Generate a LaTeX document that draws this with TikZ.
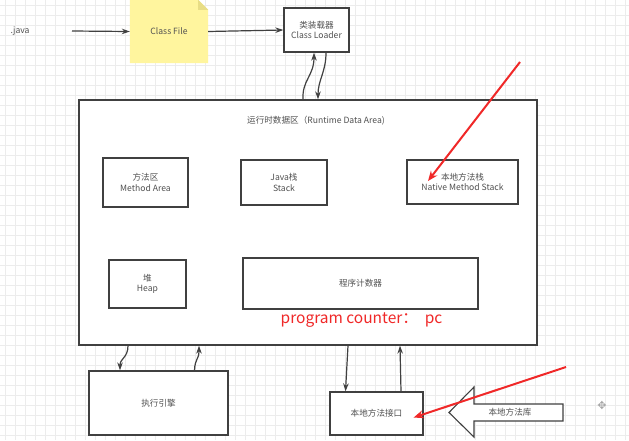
\documentclass[tikz,border=0pt]{standalone}
\usepackage{fontspec}
\setmainfont{Noto Sans CJK SC}
\newfontfamily\symfont{DejaVu Sans}
\usetikzlibrary{arrows.meta}
\definecolor{gridc}{HTML}{ECECEC}
\definecolor{linec}{HTML}{404040}
\definecolor{txtc}{HTML}{505050}
\definecolor{notey}{HTML}{FFF59E}
\definecolor{notefold}{HTML}{E8DD85}
\definecolor{redc}{HTML}{F02828}
\begin{document}
\begin{tikzpicture}[x=1pt,y=-1pt,
  box/.style={draw=linec,line width=1.3pt,fill=white,text=txtc,align=center,font=\fontsize{8.6}{10.5}\selectfont,inner sep=0pt},
  plain/.style={text=txtc,align=center,font=\fontsize{8.6}{10.5}\selectfont,inner sep=0pt},
  arr/.style={draw=linec,line width=1.2pt,-{Stealth[length=8pt,width=5.5pt]}},
  redarr/.style={draw=redc,line width=2pt,-{Stealth[length=10pt,width=8pt]}},
  gridline/.style={draw=gridc,line width=0.5pt}]
\useasboundingbox (0,0) rectangle (629,440);
\fill[white] (0,0) rectangle (629,440);
\foreach \gx in {5,15,...,625} {\draw[gridline] (\gx,0) -- (\gx,440);}
\foreach \gy in {5,15,...,435} {\draw[gridline] (0,\gy) -- (629,\gy);}

% top row
\node[plain] (java) at (20,31) {.java};
\coordinate (jstart) at (72,31);
\node[minimum width=78pt,minimum height=63pt,inner sep=0pt] (classfile) at (169,31.5) {};
\fill[notey] (classfile.south west) -- (classfile.north west) -- ([xshift=-10pt]classfile.north east) -- ([yshift=-10pt]classfile.north east) -- (classfile.south east) -- cycle;
\fill[notefold] ([xshift=-10pt]classfile.north east) -- ([yshift=-10pt]classfile.north east) -- ([xshift=-10pt,yshift=-10pt]classfile.north east) -- cycle;
\node[plain] at (classfile.center) {Class File};
\node[box,minimum width=65pt,minimum height=44pt] (loader) at (316.5,30) {类装载器\\Class Loader};
\draw[arr] (jstart) -- (classfile.west);
\draw[arr] (classfile.east) -- (loader.west);

% runtime data area
\node[box,minimum width=458pt,minimum height=245pt] (runtime) at (308,222.5) {};
\node[plain] (title) at (316,121) {运行时数据区（Runtime Data Area)};
\node[box,minimum width=85pt,minimum height=49pt] (method) at (145.5,182.5) {方法区\\Method Area};
\node[box,minimum width=86pt,minimum height=45pt] (stack) at (284,182.5) {Java栈\\Stack};
\node[box,minimum width=111pt,minimum height=44pt] (native) at (462.5,182) {本地方法栈\\Native Method Stack};
\node[box,minimum width=77pt,minimum height=48pt] (heap) at (147.5,284) {堆\\Heap};
\node[box,minimum width=235pt,minimum height=51pt] (pcbox) at (360.5,283.5) {程序计数器};
\node[text=redc,font=\fontsize{15.5}{17}\selectfont,inner sep=0pt] (pclabel) at (361.5,320.5) {program counter：\ \ pc};

% loader <-> runtime
\draw[arr] ([xshift=-5pt]runtime.north) .. controls (302,80) and (314,76) .. ([xshift=-2.5pt]loader.south);
\draw[arr] ([xshift=9.5pt]loader.south) .. controls (326,72) and (318,80) .. ([xshift=10pt]runtime.north);

% bottom boxes
\node[box,minimum width=139pt,minimum height=64pt] (engine) at (158.5,403) {执行引擎};
\node[box,minimum width=93pt,minimum height=43pt] (interface) at (376.5,413.5) {本地方法接口};
\draw[arr] ([xshift=-180pt]runtime.south) .. controls (128,358) and (120,358) .. ([xshift=-38.5pt]engine.north);
\draw[arr] ([xshift=36pt]engine.north) .. controls (195,358) and (199,360) .. ([xshift=-109pt]runtime.south);
\draw[arr] ([xshift=40pt]runtime.south) -- ([xshift=-31pt]interface.north);
\draw[arr] ([xshift=24.5pt]interface.north) -- ([xshift=92pt]runtime.south);

% native library hollow arrow
\draw[linec,line width=1.1pt,fill=white] (449,412.5) -- (474,387) -- (474,404) -- (563,404) -- (563,421) -- (474,421) -- (474,437) -- cycle;
\node[plain] (lib) at (510,412.5) {本地方法库};

% red arrows
\coordinate (r1s) at (520,62);
\coordinate (r1e) at (428,181);
\draw[redarr] (r1s) -- (r1e);
\coordinate (r2s) at (566,367);
\draw[redarr] (r2s) -- ([xshift=-10pt,yshift=-4pt]interface.east);

% move icon
\node[text=gray!70,font=\symfont\fontsize{11}{11}\selectfont,inner sep=0pt] (moveicon) at (602,405) {✥};
\end{tikzpicture}
\end{document}
